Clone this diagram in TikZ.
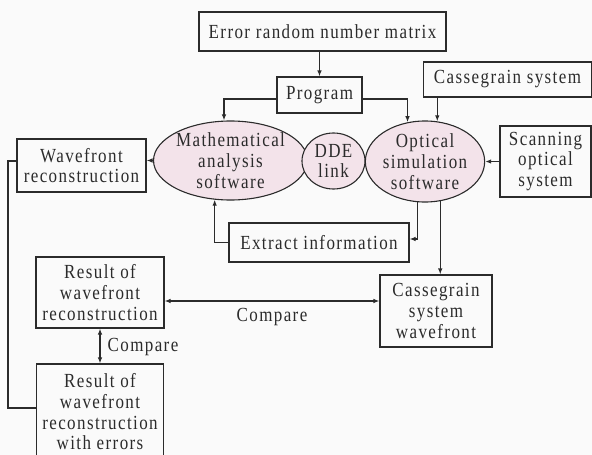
\documentclass[tikz,border=0pt]{standalone}
\usepackage{fontspec}
\setmainfont{Liberation Serif}[FakeStretch=0.85,LetterSpace=7]
\usetikzlibrary{shapes.geometric,arrows.meta}
\definecolor{ink}{HTML}{2B2B2B}
\definecolor{pinkfill}{HTML}{F3E3EA}
\definecolor{bg}{HTML}{FAFAFA}
\begin{document}
\begin{tikzpicture}[x=1pt,y=-1pt,
  every node/.style={font=\fontsize{20}{20.7}\selectfont, text=ink, align=center, inner sep=0pt},
  box/.style={draw=ink, line width=1.1pt, rectangle, fill=bg},
  oval/.style={draw=ink, line width=1.1pt, ellipse, fill=pinkfill},
  conn/.style={draw=ink, line width=1.1pt},
  arr/.style={conn, -{Latex[length=6pt,width=4.5pt]}},
  darr/.style={conn, {Latex[length=6pt,width=4.5pt]}-{Latex[length=6pt,width=4.5pt]}}]
\fill[bg] (0,0) rectangle (592,455);
\useasboundingbox (0,0) rectangle (592,455);

\node[box, minimum width=247pt, minimum height=39pt] (err) at (322.5,31.5) {Error random number matrix};
\node[box, minimum width=85pt, minimum height=36pt] (prog) at (319.5,95) {Program};
\node[box, minimum width=168pt, minimum height=35pt] (cas) at (507.5,79.5) {Cassegrain system};
\node[oval, minimum width=141pt, minimum height=79pt] (math) at (230.5,160.5) {Mathematical\\analysis\\software};
\node[oval, minimum width=63pt, minimum height=56pt] (dde) at (333.5,161) {DDE\\link};
\node[oval, minimum width=106pt, minimum height=81pt] (opt) at (425,161.5) {Optical\\simulation\\software};
\node[box, minimum width=91pt, minimum height=71pt] (scan) at (545.5,161.5) {Scanning\\optical\\system};
\node[box, minimum width=129pt, minimum height=53pt] (wf) at (81.5,165.5) {Wavefront\\reconstruction};
\node[box, minimum width=180pt, minimum height=39pt] (ext) at (319,242.5) {Extract information};
\node[box, minimum width=128pt, minimum height=71pt] (res) at (100,292.5) {Result of\\wavefront\\reconstruction};
\node[box, minimum width=112pt, minimum height=72pt] (cwf) at (436,311) {Cassegrain\\system\\wavefront};
\node[box, minimum width=127pt, minimum height=96pt] (err2) at (100,412) {Result of\\wavefront\\reconstruction\\with errors};

\node (cmp1) at (272,317) {Compare};
\node (cmp2) at (143,347) {Compare};

% connectors
\draw[arr] (prog.north |- err.south) -- (prog.north);
\draw[arr] ([yshift=-4pt]prog.west) -| ([xshift=-6.5pt]math.north);
\draw[arr] ([yshift=-4pt]prog.east) -| (opt.114);
\draw[arr] (opt.73 |- cas.south) -- (opt.73);
\draw[arr] (math.west) -- (wf.east |- math.west);
\draw[arr] (scan.west) -- (opt.east);
\draw[arr] (opt.259) |- ([yshift=3.5pt]ext.east);
\draw[arr] (opt.291) -- (opt.291 |- cwf.north);
\draw[arr] (ext.west) -| (math.248);
\draw[darr] ([yshift=-8.5pt]res.east) coordinate (c1) -- (c1 -| cwf.west);
\draw[darr] (res.south) -- (err2.north);
\draw[conn] ([yshift=4pt]err2.west) -- ++(-28,0) |- ([yshift=4.5pt]wf.west);
\end{tikzpicture}
\end{document}
